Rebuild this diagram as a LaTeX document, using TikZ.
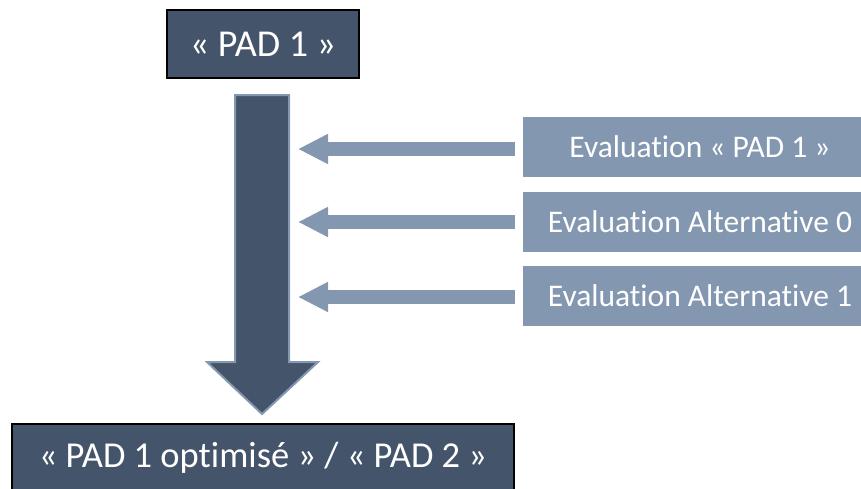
\documentclass[tikz,border=0pt]{standalone}
\usepackage{fontspec}
\setmainfont[RawFeature={-liga}]{Carlito}
\usetikzlibrary{arrows.meta}
\definecolor{darkslate}{HTML}{44546A}
\definecolor{lightslate}{HTML}{8497B0}
\begin{document}
\begin{tikzpicture}[x=1pt,y=1pt,
  padbox/.style={draw=black, line width=1.5pt, fill=darkslate, text=white,
    minimum height=68pt, inner sep=0pt},
  evalbox/.style={fill=lightslate, text=white, minimum width=354pt,
    minimum height=60pt, inner sep=0pt, font=\fontsize{31.5}{36}\selectfont},
  evalarrow/.style={draw=lightslate, line width=14pt,
    -{Triangle[length=30pt,width=28pt]}},
  bigarrow/.style={fill=darkslate, draw=lightslate, line width=2pt, line join=miter}]
\useasboundingbox (0,0) rectangle (861,-488);
\node[padbox, minimum width=192pt, font=\fontsize{38}{42}\selectfont] (pad1) at (263,-44) {« PAD 1 »};
\node[padbox, minimum width=502pt, font=\fontsize{36.5}{42}\selectfont] (pad2) at (263,-458) {« PAD 1 optimisé » / « PAD 2 »};
\node[evalbox] (e1) at (700,-147) {Evaluation « PAD 1 »};
\node[evalbox] (e2) at (700,-221.5) {Evaluation Alternative 0};
\node[evalbox] (e3) at (700,-296) {Evaluation Alternative 1};
\draw[bigarrow] (235,-95) -- (289,-95) -- (289,-362) -- (318,-362) -- (262,-414)
  -- (207,-362) -- (235,-362) -- cycle;
\coordinate (s1) at (515,-149);
\coordinate (s2) at (515,-222);
\coordinate (s3) at (515,-297);
\coordinate (t1) at (298,-149);
\coordinate (t2) at (298,-222);
\coordinate (t3) at (298,-297);
\draw[evalarrow] (s1) -- (t1);
\draw[evalarrow] (s2) -- (t2);
\draw[evalarrow] (s3) -- (t3);
\end{tikzpicture}
\end{document}
